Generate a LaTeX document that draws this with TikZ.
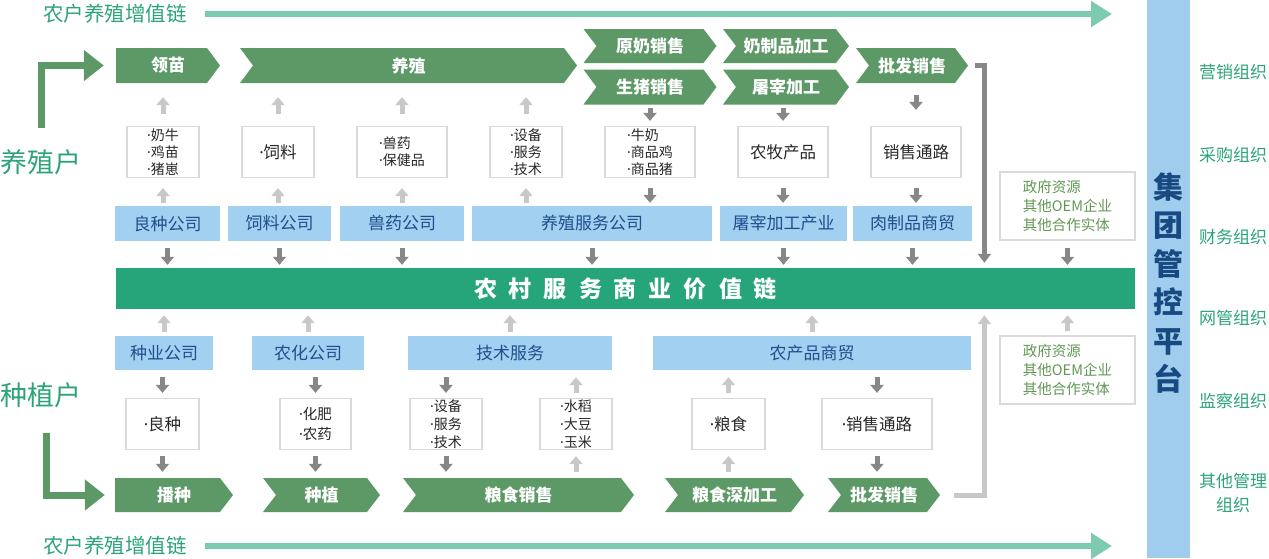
\documentclass[tikz,border=0pt]{standalone}
\usepackage{fontspec}
\setmainfont{Noto Sans CJK SC}
\newfontfamily\latinfont{Noto Sans}
\newcommand{\bul}{{\latinfont ·}}
\usetikzlibrary{arrows.meta}

\definecolor{chevgreen}{RGB}{92,153,102}
\definecolor{bargreen}{RGB}{38,165,123}
\definecolor{compblue}{RGB}{162,208,240}
\definecolor{comptext}{RGB}{30,78,140}
\definecolor{tealtext}{RGB}{44,164,120}
\definecolor{tealarrow}{RGB}{124,203,176}
\definecolor{arrdark}{RGB}{135,135,135}
\definecolor{arrlight}{RGB}{200,200,200}
\definecolor{boxgray}{RGB}{218,218,218}
\definecolor{itemtext}{RGB}{40,40,40}
\definecolor{govtext}{RGB}{98,152,84}
\definecolor{ctrlblue}{RGB}{160,205,238}
\definecolor{ctrltext}{RGB}{24,74,130}

\tikzset{
  chevbase/.style={text=white, font=\fontsize{17}{20}\selectfont\bfseries, minimum height=35pt, inner sep=0pt},
  chevflat/.style={chevbase, path picture={\fill[chevgreen] (path picture bounding box.north west) -- ([xshift=-13pt]path picture bounding box.north east) -- (path picture bounding box.east) -- ([xshift=-13pt]path picture bounding box.south east) -- (path picture bounding box.south west) -- cycle;}},
  chevnotch/.style={chevbase, path picture={\fill[chevgreen] (path picture bounding box.north west) -- ([xshift=-13pt]path picture bounding box.north east) -- (path picture bounding box.east) -- ([xshift=-13pt]path picture bounding box.south east) -- (path picture bounding box.south west) -- ([xshift=13pt]path picture bounding box.west) -- cycle;}},
  comp/.style={fill=compblue, text=comptext, font=\fontsize{17}{20}\selectfont, minimum height=35pt, inner sep=0pt},
  itembox/.style={draw=boxgray, line width=1.2pt, fill=white, text=itemtext, inner sep=0pt, minimum height=51pt, align=left},
  smalltxt/.style={font=\fontsize{14}{17}\selectfont},
  bigtxt/.style={font=\fontsize{16.5}{20}\selectfont},
  govbox/.style={draw=boxgray, line width=1.2pt, fill=white, text=govtext, inner sep=0pt, align=left, font=\fontsize{14.5}{19}\selectfont, minimum width=135pt, minimum height=68pt},
  chainbar/.style={fill=bargreen, text=white, inner sep=0pt, font=\fontsize{23}{26}\selectfont\bfseries},
  sidelbl/.style={text=tealtext, font=\fontsize{27}{30}\selectfont},
  ttl/.style={text=tealtext, font=\fontsize{20.5}{24}\selectfont, inner sep=0pt},
  orglbl/.style={text=tealtext, font=\fontsize{17}{24}\selectfont, align=center},
  darr/.style={draw=arrdark, line width=5pt, -{Triangle[width=13pt,length=8pt]}},
  larr/.style={draw=arrlight, line width=5pt, -{Triangle[width=13pt,length=8pt]}},
  tealarr/.style={draw=tealarrow, line width=6pt, -{Triangle[width=25pt,length=21pt]}},
  farmarr/.style={draw=chevgreen, line width=7pt, -{Triangle[width=30pt,length=20pt]}},
  gline/.style={line width=5pt, -{Triangle[width=13pt,length=9pt]}}
}

\begin{document}
\begin{tikzpicture}[x=1pt, y=-1pt]
  \useasboundingbox (0,0) rectangle (1269,558);

  % titles and farmers
  \node[ttl] (ttltop) at (115,14) {农户养殖增值链};
  \node[ttl] (ttlbot) at (115,546) {农户养殖增值链};
  \coordinate (ttltopend) at (1112,14);
  \coordinate (ttlbotend) at (1112,546);
  \draw[tealarr] ([xshift=18pt]ttltop.east) -- (ttltopend);
  \draw[tealarr] ([xshift=18pt]ttlbot.east) -- (ttlbotend);

  \node[sidelbl] (breeder) at (41,162) {养殖户};
  \node[sidelbl] (planter) at (41,395) {种植户};

  % breeding chain
  \node[chevflat, minimum width=104pt] (lm) at (168,65.5) {领苗};
  \node[chevnotch, minimum width=337pt] (yz) at (408.5,65.5) {养殖};
  \node[chevnotch, minimum width=133pt, minimum height=34pt] (ynxs) at (650,46) {原奶销售};
  \node[chevnotch, minimum width=133pt] (szxs) at (650,87) {生猪销售};
  \node[chevnotch, minimum width=126pt, minimum height=34pt] (nzpjg) at (786,46) {奶制品加工};
  \node[chevnotch, minimum width=126pt] (tzjg) at (786,87) {屠宰加工};
  \node[chevnotch, minimum width=112pt] (pfxs) at (912,65.5) {批发销售};

  \coordinate (breedstart) at (41,128);
  \draw[farmarr] (breedstart) |- ([xshift=-12pt]lm.west);

  \node[itembox, smalltxt, minimum width=72pt] (b1) at (163,152) {\bul 奶牛\\\bul 鸡苗\\\bul 猪崽};
  \node[itembox, bigtxt, minimum width=72pt] (b2) at (278,152) {\bul 饲料};
  \node[itembox, smalltxt, minimum width=90pt] (b3) at (402,152) {\bul 兽药\\\bul 保健品};
  \node[itembox, smalltxt, minimum width=72pt] (b4) at (526,152) {\bul 设备\\\bul 服务\\\bul 技术};
  \node[itembox, smalltxt, minimum width=90pt] (b5) at (650,152) {\bul 牛奶\\\bul 商品鸡\\\bul 商品猪};
  \node[itembox, bigtxt, minimum width=90pt] (b6) at (783,152) {农牧产品};
  \node[itembox, bigtxt, minimum width=90pt] (b7) at (916,152) {销售通路};

  \node[comp, minimum width=105pt] (l1) at (167.5,223.5) {良种公司};
  \node[comp, minimum width=103pt] (l2) at (279.5,223.5) {饲料公司};
  \node[comp, minimum width=124pt] (l3) at (402,223.5) {兽药公司};
  \node[comp, minimum width=240pt] (l4) at (592,223.5) {养殖服务公司};
  \node[comp, minimum width=127pt] (l5) at (783.5,223.5) {屠宰加工产业};
  \node[comp, minimum width=119pt] (l6) at (912.5,223.5) {肉制品商贸};

  \node[govbox] (g1) at (1067.5,206) {政府资源\\其他OEM企业\\其他合作实体};

  % middle chain
  \node[chainbar, minimum width=1019pt, minimum height=41pt] (chain) at (625.5,288.5)
    {农\hspace{12pt}村\hspace{12pt}服\hspace{12pt}务\hspace{12pt}商\hspace{12pt}业\hspace{12pt}价\hspace{12pt}值\hspace{12pt}链};

  % planting chain
  \node[comp, minimum width=98pt, minimum height=34pt] (m1) at (164,353) {种业公司};
  \node[comp, minimum width=112pt, minimum height=34pt] (m2) at (308,353) {农化公司};
  \node[comp, minimum width=204pt, minimum height=34pt] (m3) at (510,353) {技术服务};
  \node[comp, minimum width=318pt, minimum height=34pt] (m4) at (812,353) {农产品商贸};

  \node[govbox] (g2) at (1067.5,370) {政府资源\\其他OEM企业\\其他合作实体};

  \node[itembox, bigtxt, minimum width=73pt] (d1) at (162.5,424) {\bul 良种};
  \node[itembox, font=\fontsize{14.5}{20}\selectfont, minimum width=71pt] (d2) at (315.5,424) {\bul 化肥\\\bul 农药};
  \node[itembox, font=\fontsize{14}{18}\selectfont, minimum width=72pt] (d3) at (446,424) {\bul 设备\\\bul 服务\\\bul 技术};
  \node[itembox, font=\fontsize{14}{18}\selectfont, minimum width=72pt] (d4) at (576,424) {\bul 水稻\\\bul 大豆\\\bul 玉米};
  \node[itembox, bigtxt, minimum width=73pt] (d5) at (728.5,424) {\bul 粮食};
  \node[itembox, bigtxt, minimum width=110pt] (d6) at (877,424) {\bul 销售通路};

  \node[chevflat, minimum width=118pt, minimum height=34pt] (e1) at (174,495) {播种};
  \node[chevnotch, minimum width=117pt, minimum height=34pt] (e2) at (321.5,495) {种植};
  \node[chevnotch, minimum width=231pt, minimum height=34pt] (e3) at (518.5,495) {粮食销售};
  \node[chevnotch, minimum width=139pt, minimum height=34pt] (e4) at (734.5,495) {粮食深加工};
  \node[chevnotch, minimum width=112pt, minimum height=34pt] (e5) at (884,495) {批发销售};

  \coordinate (plantstart) at (46,433);
  \draw[farmarr] (plantstart) |- ([xshift=-10pt]e1.west);

  % upper arrows
  \foreach \b/\c in {b1/lm, b2/yz, b3/yz, b4/yz}
    \draw[larr, shorten <=12pt, shorten >=14pt] (\b.north) -- (\b.north |- \c.south);
  \draw[darr, shorten <=3pt, shorten >=5pt] (szxs.south -| b5.north) -- (b5.north);
  \draw[darr, shorten <=3pt, shorten >=5pt] (tzjg.south -| b6.north) -- (b6.north);
  \draw[darr, shorten <=12pt, shorten >=16pt] (pfxs.south -| b7.north) -- (b7.north);
  \foreach \b/\l in {b1/l1, b2/l2, b3/l3, b4/l4}
    \draw[larr, shorten <=3pt, shorten >=10pt] (\b.south |- \l.north) -- (\b.south);
  \foreach \b/\l in {b5/l4, b6/l5, b7/l6}
    \draw[darr, shorten <=10pt, shorten >=3pt] (\b.south) -- (\b.south |- \l.north);
  \foreach \n in {l1, l2, l3, l4, l5, l6, g1}
    \draw[darr, shorten <=7pt, shorten >=3pt] (\n.south) -- (\n.south |- chain.north);

  % lower arrows
  \foreach \n in {m1, m2, m3, m4, g2}
    \draw[larr, shorten <=4pt, shorten >=6pt] (\n.north) -- (\n.north |- chain.south);
  \foreach \d/\m in {d1/m1, d2/m2, d3/m3, d6/m4}
    \draw[darr, shorten <=7pt, shorten >=5pt] (\d.north |- \m.south) -- (\d.north);
  \foreach \d/\m in {d4/m3, d5/m4}
    \draw[larr, shorten <=5pt, shorten >=7pt] (\d.north) -- (\d.north |- \m.south);
  \foreach \d/\e in {d1/e1, d2/e2, d3/e3, d6/e5}
    \draw[darr, shorten <=6pt, shorten >=6pt] (\d.south) -- (\d.south |- \e.north);
  \foreach \d/\e in {d4/e3, d5/e4}
    \draw[larr, shorten <=6pt, shorten >=6pt] (\d.south |- \e.north) -- (\d.south);

  % side lines to the middle chain
  \draw[gline, draw=arrdark, shorten >=5pt] ([xshift=7pt]pfxs.east) -| ([xshift=-15pt]g1.west |- chain.north);
  \draw[gline, draw=arrlight, shorten >=6pt] ([xshift=14pt]e5.east) -| ([xshift=-15pt]g2.west |- chain.south);

  % control platform
  \node[fill=ctrlblue, inner sep=0pt, minimum width=43pt, minimum height=558pt] (ctrl) at (1168.5,279) {};
  \node[text=ctrltext, align=center, font=\fontsize{30}{38.5}\selectfont\bfseries] (ctrltxt) at (1168.5,283) {集\\团\\管\\控\\平\\台};
  \foreach \t/\y [count=\i] in {营销组织/72, 采购组织/155, 财务组织/237, 网管组织/318, 监察组织/401}
    \node[orglbl] (org\i) at (1233,\y) {\t};
  \node[orglbl] (org6) at (1233,493) {其他管理\\组织};
\end{tikzpicture}
\end{document}
